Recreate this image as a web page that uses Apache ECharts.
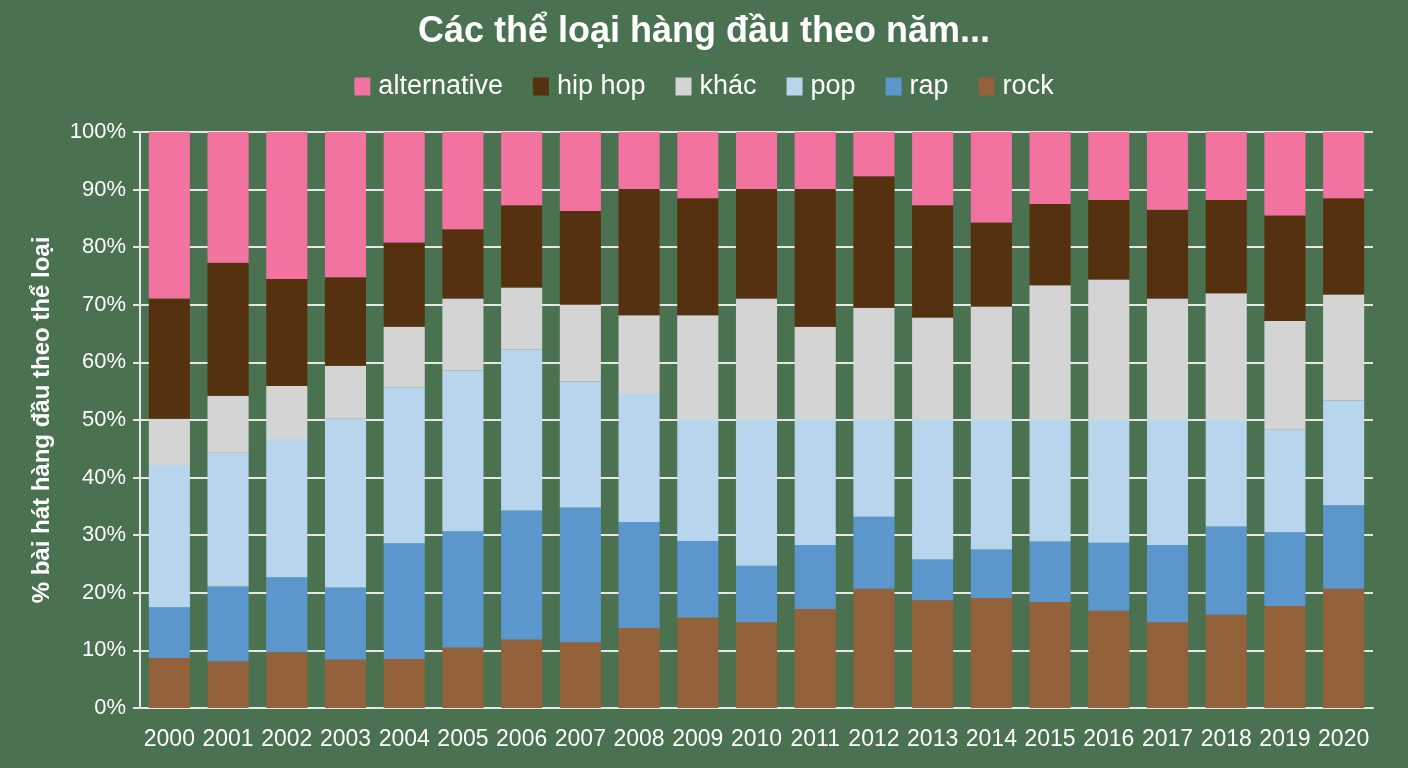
<!DOCTYPE html>
<html>
<head>
<meta charset="utf-8">
<script src="https://cdn.jsdelivr.net/npm/echarts@6/dist/echarts.min.js"></script>
<style>
  html, body { margin: 0; padding: 0; background: #4a7150; }
  #chart { width: 1408px; height: 768px; }
</style>
</head>
<body>
<div id="chart"></div>
<script>
// years on the x axis
const years = ["2000", "2001", "2002", "2003", "2004", "2005", "2006", "2007", "2008", "2009",
  "2010", "2011", "2012", "2013", "2014", "2015", "2016", "2017", "2018", "2019", "2020"];

// share of top songs per genre (%)
const rock = [8.7, 8.1, 9.7, 8.4, 8.5, 10.5, 11.9, 11.4, 13.9, 15.7, 14.9, 17.2, 20.7, 18.7, 19.1, 18.4, 16.9, 14.9, 16.2, 17.7, 20.7];
const rap = [8.8, 13.0, 13.0, 12.5, 20.1, 20.2, 22.4, 23.4, 18.4, 13.3, 9.8, 11.1, 12.5, 7.1, 8.4, 10.5, 11.8, 13.4, 15.3, 12.8, 14.5];
const pop = [24.7, 23.2, 24.0, 29.3, 27.0, 27.9, 28.0, 21.9, 22.2, 21.0, 25.3, 21.7, 16.8, 24.2, 22.5, 21.1, 21.3, 21.7, 18.5, 17.8, 18.2];
const khac = [8.0, 9.9, 9.2, 9.2, 10.6, 12.5, 10.7, 13.3, 13.7, 18.2, 21.1, 16.2, 19.5, 17.8, 19.7, 23.4, 24.4, 21.1, 22.0, 18.9, 18.4];
const hipHop = [20.9, 23.1, 18.6, 15.4, 14.6, 12.0, 14.3, 16.3, 21.9, 20.3, 19.0, 23.9, 22.8, 19.5, 14.6, 14.1, 13.8, 15.4, 16.2, 18.3, 16.7];
const alternative = [28.9, 22.7, 25.5, 25.2, 19.2, 16.9, 12.7, 13.7, 9.9, 11.5, 9.9, 9.9, 7.7, 12.7, 15.7, 12.5, 11.8, 13.5, 11.8, 14.5, 11.5];

const legendOrder = ["alternative", "hip hop", "khác", "pop", "rap", "rock"];

const font = "'Liberation Sans', Arial, sans-serif";

function bar(name, data, color) {
  return {
    name: name,
    type: "bar",
    stack: "total",
    data: data,
    barWidth: "70%",
    itemStyle: { color: color },
    emphasis: { disabled: true }
  };
}

const chart = echarts.init(document.getElementById("chart"));

chart.setOption({
  animation: false,
  backgroundColor: "#4a7150",
  textStyle: { fontFamily: font },
  title: {
    text: "Các thể loại hàng đầu theo năm...",
    left: "center",
    top: 9,
    textStyle: { color: "#ffffff", fontSize: 36, fontWeight: "bold", fontFamily: font }
  },
  legend: {
    data: legendOrder,
    top: 68,
    left: "center",
    itemWidth: 16,
    itemHeight: 18,
    itemGap: 30,
    icon: "rect",
    textStyle: { color: "#ffffff", fontSize: 27, fontFamily: font, padding: [0, 0, 0, 3] }
  },
  grid: { left: 140, right: 35, top: 132, bottom: 60 },
  xAxis: {
    type: "category",
    data: years,
    axisLine: { lineStyle: { color: "#e6e6e6", width: 2 } },
    axisTick: { show: false },
    axisLabel: { color: "#ffffff", fontSize: 23, margin: 20, interval: 0, fontFamily: font }
  },
  yAxis: {
    type: "value",
    min: 0,
    max: 100,
    interval: 10,
    name: "% bài hát hàng đầu theo thể loại",
    nameLocation: "middle",
    nameGap: 86,
    nameTextStyle: { color: "#ffffff", fontSize: 24, fontWeight: "bold", fontFamily: font },
    axisLine: { show: true, lineStyle: { color: "#e6e6e6", width: 2 } },
    axisTick: { show: true, length: 7, lineStyle: { color: "#e6e6e6", width: 2 } },
    axisLabel: { color: "#ffffff", fontSize: 22, margin: 14, formatter: "{value}%", fontFamily: font },
    splitLine: { lineStyle: { color: "#e6e6e6", width: 2 } }
  },
  series: [
    bar("rock", rock, "#93623a"),
    bar("rap", rap, "#5b97cc"),
    bar("pop", pop, "#b8d5ee"),
    bar("khác", khac, "#d4d4d4"),
    bar("hip hop", hipHop, "#55310f"),
    bar("alternative", alternative, "#f272a0")
  ]
});
</script>
</body>
</html>
